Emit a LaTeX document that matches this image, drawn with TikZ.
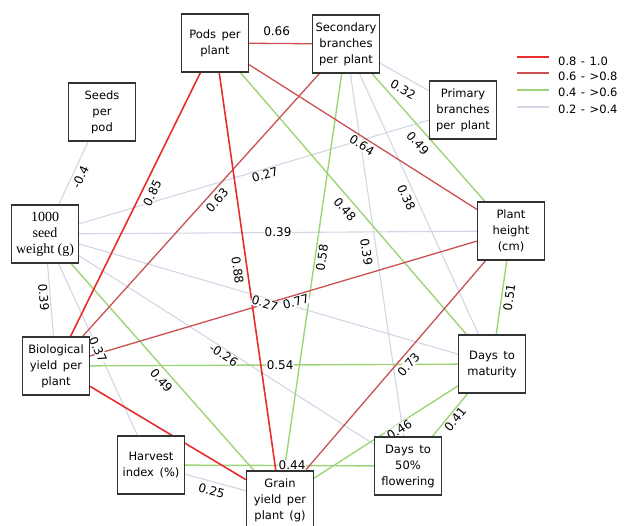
\documentclass[tikz,border=0pt]{standalone}
\usepackage{fontspec}
\setmainfont{DejaVu Sans}[WordSpace=1.5]
\newfontfamily\serifnode{Liberation Serif}
\usetikzlibrary{backgrounds}
\definecolor{cA}{RGB}{232,46,44}
\definecolor{cB}{RGB}{202,80,82}
\definecolor{cC}{RGB}{158,212,118}
\definecolor{cD}{RGB}{212,212,230}
\definecolor{boxline}{RGB}{50,50,50}
\newcommand\legsep{\hspace{4.5pt}}
\begin{document}
\begin{tikzpicture}[x=1pt,y=-1pt,
  box/.style={draw=boxline, line width=1.3pt, fill=white, minimum width=67pt,
    minimum height=58pt, inner sep=1pt, align=center,
    font=\fontsize{11.5}{16}\selectfont},
  eA/.style={draw=cA, line width=1.6pt},
  eB/.style={draw=cB, line width=1.3pt},
  eC/.style={draw=cC, line width=1.4pt},
  eD/.style={draw=cD, line width=1.1pt},
  lab/.style={sloped, fill=white, inner sep=0.5pt, font=\fontsize{12}{13}\selectfont},
  lA/.style={anchor=south, outer sep=#1},
  lB/.style={anchor=north, outer sep=#1},
  legtxt/.style={anchor=west, inner sep=0pt, font=\fontsize{11.5}{12}\selectfont},
  legline/.style={line width=2pt}
]
\clip (0,0) rectangle (628,525);

% nodes
\node[box] (pods) at (215,43) {Pods per\\plant};
\node[box] (sec) at (346,44) {Secondary\\branches\\per plant};
\node[box] (seeds) at (102,112) {Seeds\\per\\pod};
\node[box] (prim) at (463,110) {Primary\\branches\\per plant};
\node[box, font=\serifnode\fontsize{14}{16}\selectfont] (tsw) at (45,234) {1000\\seed\\weight (g)};
\node[box] (ph) at (511,231) {Plant\\height\\(cm)};
\node[box] (bio) at (56,366) {Biological\\yield per\\plant};
\node[box] (dm) at (492,364) {Days to\\maturity};
\node[box] (hi) at (151,465) {Harvest\\index (\%)};
\node[box] (df) at (408,466) {Days to\\50\%\\flowering};
\node[box] (gy) at (280,500) {Grain\\yield per\\plant (g)};

\begin{scope}[on background layer]
% weak (0.2 - >0.4)
\draw[eD] (seeds) -- (tsw);
\draw[eD] (sec) -- (df);
\draw[eD] (sec) -- (dm);
\draw[eD] (sec) -- (prim);
\draw[eD] (tsw) -- (prim);
\draw[eD] (tsw) -- (ph);
\draw[eD] (tsw) -- (bio);
\draw[eD] (tsw) -- (hi);
\draw[eD] (tsw) -- (dm);
\draw[eD] (tsw) -- (df);
\draw[eD] (hi) -- (gy);
% 0.4 - >0.6
\draw[eC] (pods) -- (dm);
\draw[eC] (sec) -- (ph);
\draw[eC] (sec) -- (gy);
\draw[eC] (tsw) -- (gy);
\draw[eC] (bio) -- (dm);
\draw[eC] (hi) -- (df);
\draw[eC] (dm) -- (ph);
\draw[eC] (dm) -- (df);
\draw[eC] (dm) -- (gy);
% 0.6 - >0.8
\draw[eB] (pods) -- (sec);
\draw[eB] (sec) -- (bio);
\draw[eB] (pods) -- (ph);
\draw[eB] (bio) -- (ph);
\draw[eB] (ph) -- (gy);
% 0.8 - 1.0
\draw[eA] (pods) -- (bio);
\draw[eA] (pods) -- (gy);
\draw[eA] (bio) -- (gy);

% labels
\path (pods.center) -- (sec.center) node[lab, pos=0.47, lA=7.3pt] {0.66};
\path (seeds.center) -- (tsw.center) node[lab, pos=0.506, lB=2.9pt] {-0.4};
\path (pods.center) -- (bio.center) node[lab, pos=0.451, lB=5pt] {0.85};
\path (sec.center) -- (bio.center) node[lab, pos=0.467, lB=3.8pt] {0.63};
\path (pods.center) -- (gy.center) node[lab, pos=0.495, lB=4.6pt] {0.88};
\path (pods.center) -- (ph.center) node[lab, pos=0.51, lB=2.6pt] {0.64};
\path (pods.center) -- (dm.center) node[lab, pos=0.497, lB=5.3pt] {0.48};
\path (sec.center) -- (ph.center) node[lab, pos=0.489, lB=6.8pt] {0.49};
\path (sec.center) -- (gy.center) node[lab, pos=0.466, lB=1.8pt] {0.58};
\path (sec.center) -- (df.center) node[lab, pos=0.489, lB=4.9pt] {0.39};
\path (sec.center) -- (dm.center) node[lab, pos=0.468, lB=3.7pt] {0.38};
\path (sec.center) -- (prim.center) node[lab, pos=0.537, lB=6.6pt] {0.32};
\path (tsw.center) -- (prim.center) node[lab, pos=0.522, lB=0.9pt] {0.27};
\path (tsw.center) -- (ph.center) node[lab, pos=0.50] {0.39};
\path (tsw.center) -- (bio.center) node[lab, pos=0.473, lB=1.5pt] {0.39};
\path (tsw.center) -- (hi.center) node[lab, pos=0.50] {0.37};
\path (tsw.center) -- (gy.center) node[lab, pos=0.527, lB=4.9pt] {0.49};
\path (tsw.center) -- (dm.center) node[lab, pos=0.495, lB=0.2pt] {0.27};
\path (tsw.center) -- (df.center) node[lab, pos=0.501, lB=0.8pt] {-0.26};
\path (bio.center) -- (ph.center) node[lab, pos=0.523, lB=1.8pt] {0.77};
\path (bio.center) -- (dm.center) node[lab, pos=0.514] {0.54};
\path (hi.center) -- (df.center) node[lab, pos=0.549] {0.44};
\path (hi.center) -- (gy.center) node[lab, pos=0.488, lB=4pt] {0.25};
\path (dm.center) -- (ph.center) node[lab, pos=0.509, lB=2.6pt] {0.51};
\path (dm.center) -- (df.center) node[lab, pos=0.50, lB=1.7pt] {0.41};
\path (dm.center) -- (gy.center) node[lab, pos=0.45, lB=0pt] {0.46};
\path (ph.center) -- (gy.center) node[lab, pos=0.474, lB=4.3pt] {0.73};
\end{scope}

% legend
\draw[cA, legline] (517,57) -- (549,57);
\draw[cB, legline] (517,72.5) -- (549,72.5);
\draw[cC, legline] (517,90) -- (549,90);
\draw[cD, legline] (517,106.5) -- (549,106.5);
\node[legtxt] (leg1) at (558,61) {0.8\legsep-\legsep1.0};
\node[legtxt] (leg2) at (558,76.7) {0.6\legsep-\legsep>0.8};
\node[legtxt] (leg3) at (558,92.3) {0.4\legsep-\legsep>0.6};
\node[legtxt] (leg4) at (558,109) {0.2\legsep-\legsep>0.4};
\end{tikzpicture}
\end{document}
